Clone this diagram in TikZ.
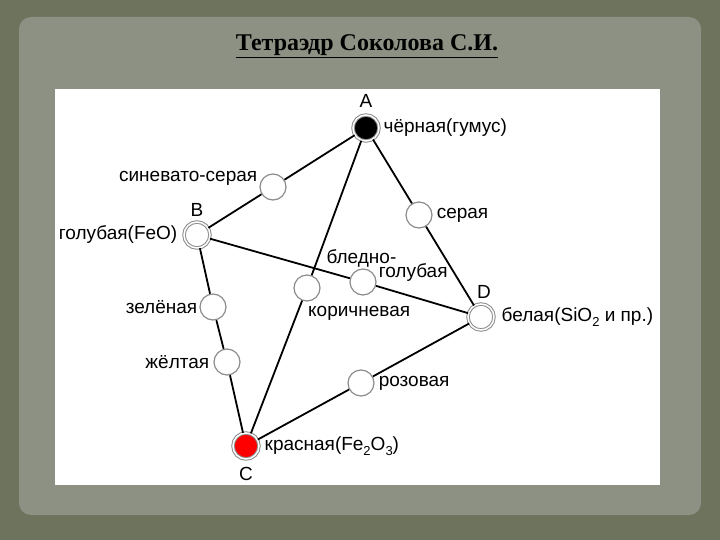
\documentclass[tikz,border=0pt]{standalone}
\usepackage{fontspec}
\setmainfont{Liberation Serif}
\newfontfamily\labelfont{Liberation Sans}
\usetikzlibrary{positioning}

\definecolor{frameolive}{RGB}{110,115,94}
\definecolor{panelgrey}{RGB}{141,145,131}
\definecolor{ringgrey}{RGB}{140,140,140}

\newcommand\lowidx[1]{\raisebox{-0.45ex}{\fontsize{13}{13}\selectfont #1}}

\tikzset{
  dot/.style={circle, draw=ringgrey, line width=1.2pt, fill=white, minimum size=26pt, inner sep=0pt},
  vertex/.style={circle, draw=ringgrey, line width=1pt, double=white, double distance=1.5pt, minimum size=26pt, inner sep=0pt},
  edge/.style={line width=1.8pt},
  label distance=3pt,
  every label/.style={font=\labelfont\fontsize{19}{19}\selectfont, inner sep=1pt, text=black}
}

\begin{document}
\begin{tikzpicture}[x=1pt, y=-1pt]
\useasboundingbox (0,0) rectangle (720,540);
\fill [frameolive] (0,0) rectangle (720,540);
\fill [panelgrey, rounded corners=12pt] (19,17) rectangle (701,515);
\fill [white] (55,89) rectangle (660,485);

\node [font=\bfseries\fontsize{24}{24}\selectfont] (title) at (367,46) {\underline{Тетраэдр Соколова С.И.}};

\node [vertex, fill=black, label={[label distance=6pt]above:A}, label=right:чёрная(гумус)] (A) at (366,128) {};
\node [vertex, fill=white, label={[label distance=4pt]above:B}, label={[label distance=5pt]left:голубая(FeO)}] (B) at (197,235) {};
\node [vertex, fill=white, label={[label distance=4pt, xshift=3pt]above:D}, label={[label distance=6pt]right:{белая(SiO\lowidx{2} и пр.)}}] (D) at (481,317) {};
\node [vertex, fill=red, label={[label distance=7pt]below:C}, label={[label distance=4pt]right:{красная(Fe\lowidx{2}O\lowidx{3})}}] (C) at (246,446) {};

\node [dot, label={[yshift=9pt, label distance=1pt]left:синевато-серая}] (sgr) at (273,187) {};
\node [dot, label=right:серая] (ser) at (419,215) {};
\node [dot, label={[anchor=west, xshift=-24pt, yshift=24pt, label distance=0pt]180:бледно-}, label={[anchor=west, yshift=9pt, label distance=1pt]0:голубая}] (blg) at (363,282) {};
\node [dot, label={[anchor=north west, yshift=-3pt, label distance=0pt]south:коричневая}] (kor) at (307,288) {};
\node [dot, label={[label distance=1pt]left:зелёная}] (zel) at (213,307) {};
\node [dot, label=left:жёлтая] (zhe) at (227,362) {};
\node [dot, label=right:розовая] (roz) at (361,383) {};

\draw [edge] (A) -- (sgr) -- (B);
\draw [edge] (A) -- (ser) -- (D);
\draw [edge] (A) -- (kor) -- (C);
\draw [edge] (B) -- (blg) -- (D);
\draw [edge] (B) -- (zel) -- (zhe) -- (C);
\draw [edge] (C) -- (roz) -- (D);
\end{tikzpicture}
\end{document}
